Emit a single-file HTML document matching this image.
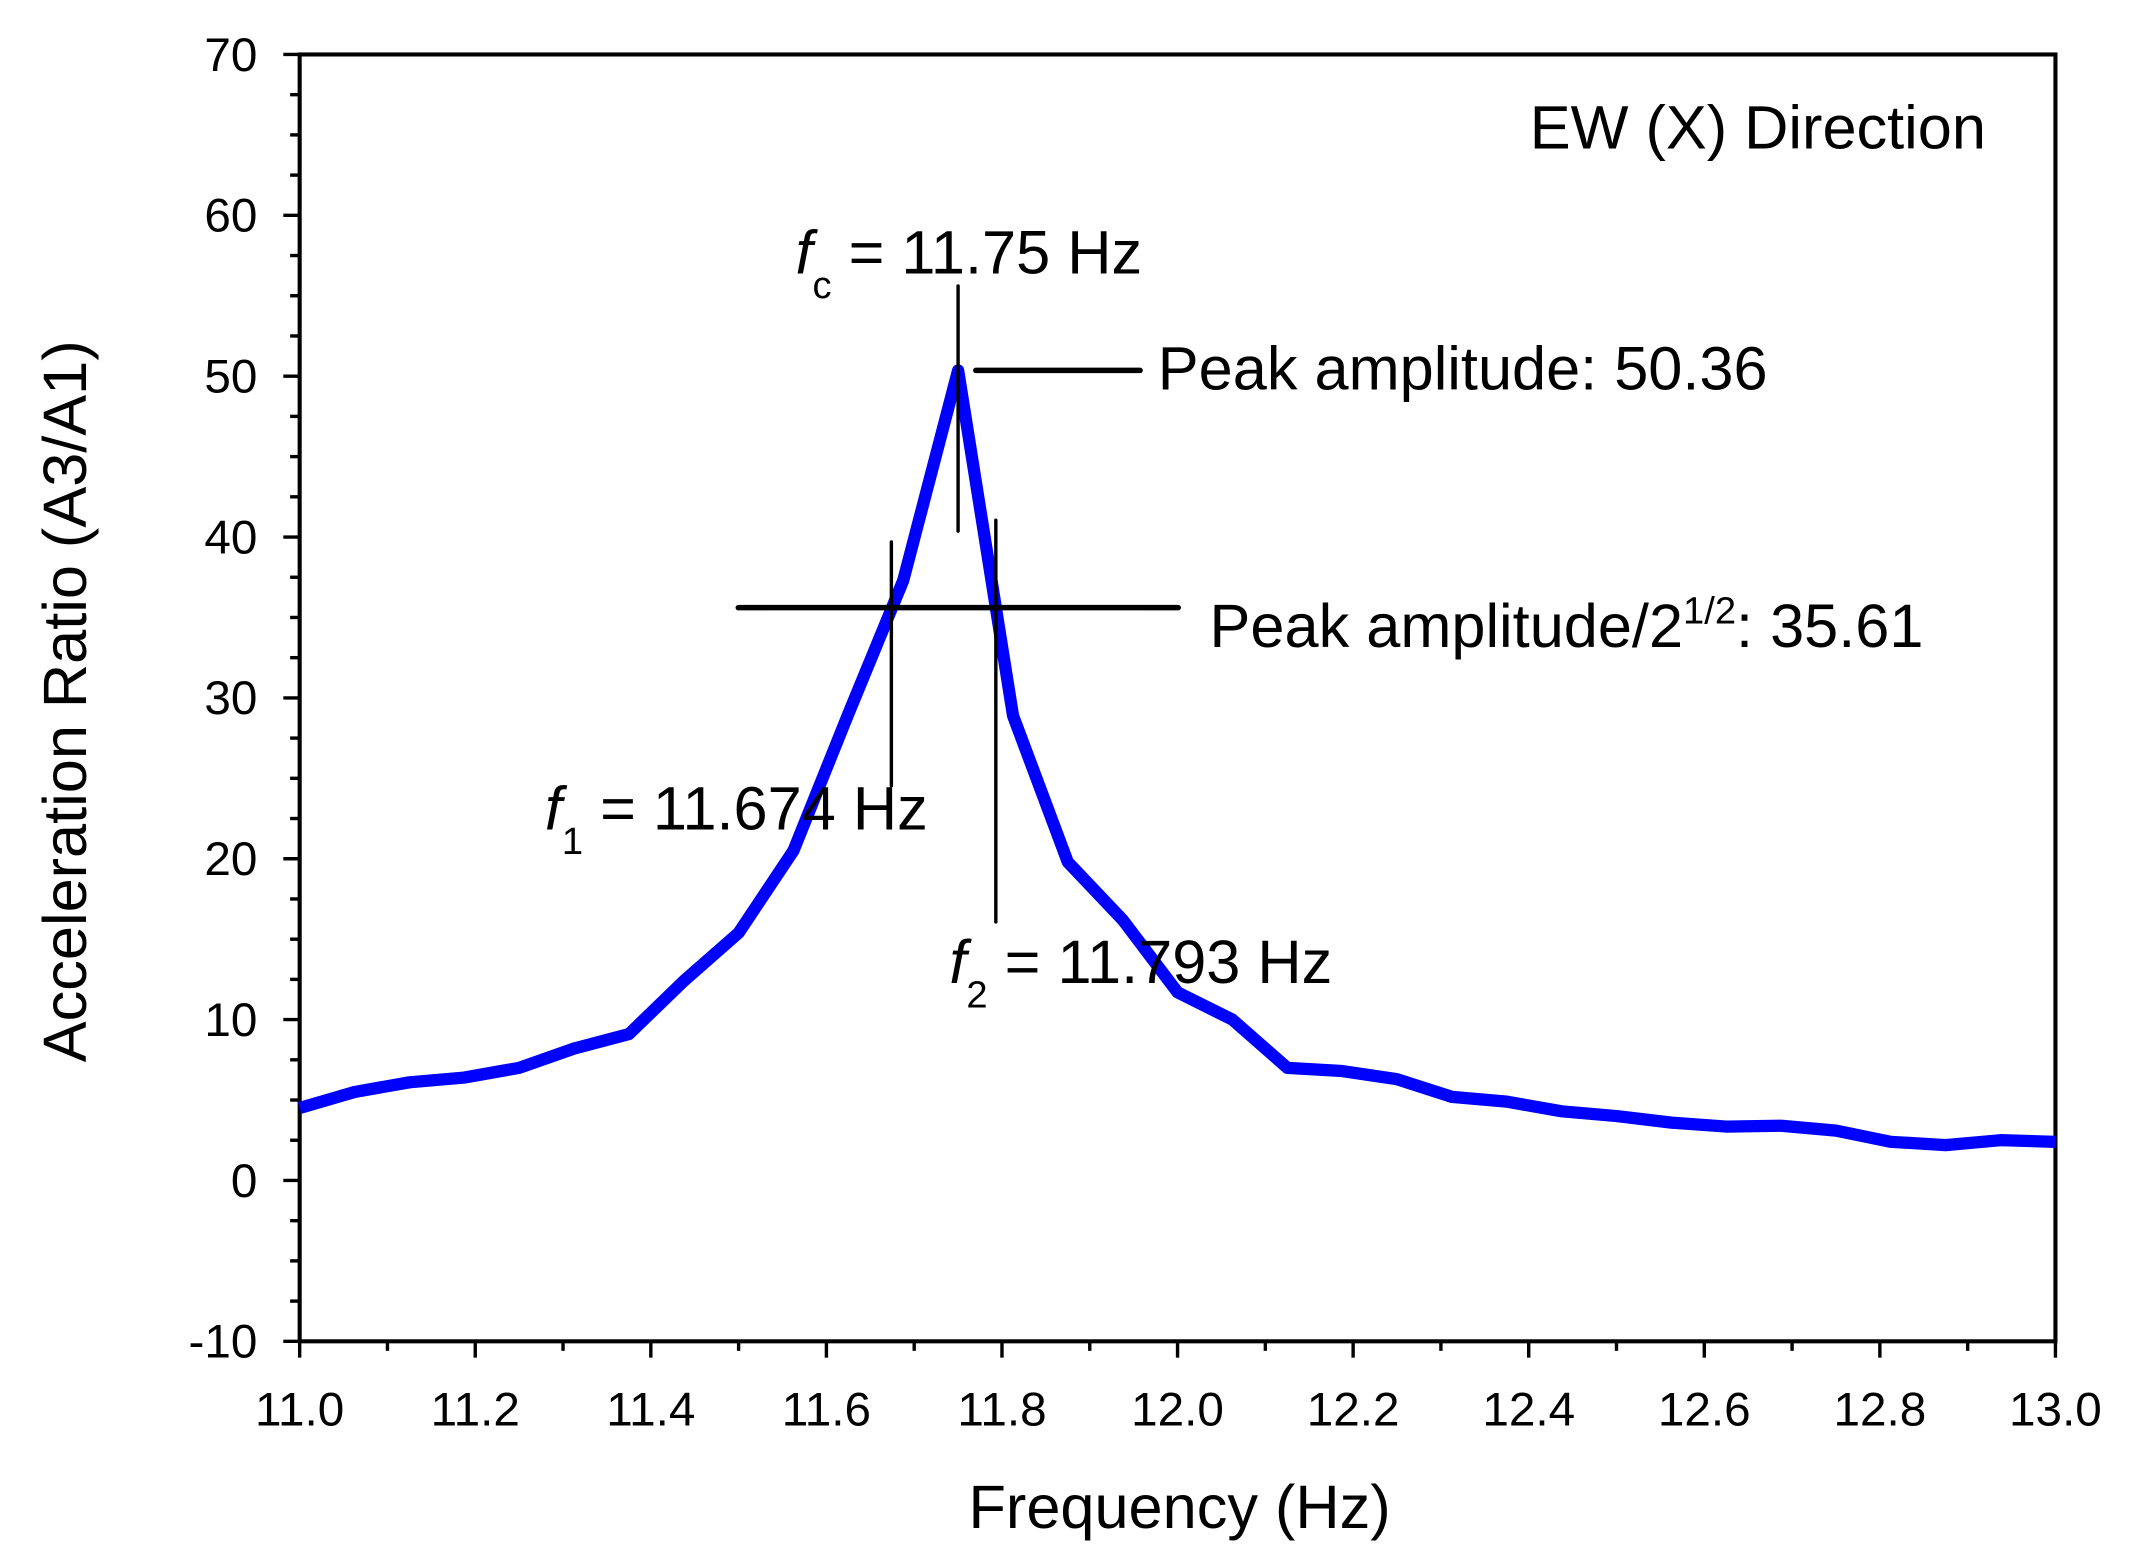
<!DOCTYPE html>
<html><head><meta charset="utf-8"><style>
html,body{margin:0;padding:0;background:#fff;}
svg{display:block;}
text{font-family:"Liberation Sans",Arial,sans-serif;fill:#000;}
</style></head><body>
<svg id="chart" width="2129" height="1566" viewBox="0 0 1563 1150" preserveAspectRatio="none" xmlns="http://www.w3.org/2000/svg">
<g id="axes"></g>
<g id="plot"></g>
<g id="annot"></g>
</svg>
<script>
const freqStart = 11.0;
const freqStep = 0.0625;
const ratioValues = [4.5,5.5,6.1,6.4,7.0,8.2,9.1,12.4,15.4,20.5,29.0,37.3,50.36,28.9,19.8,16.2,11.7,10.0,7.0,6.8,6.3,5.2,4.9,4.3,4.0,3.6,3.35,3.4,3.1,2.4,2.2,2.5,2.4];
const xTicks = ["11.0","11.2","11.4","11.6","11.8","12.0","12.2","12.4","12.6","12.8","13.0"];
const yTicks = ["-10","0","10","20","30","40","50","60","70"];
const fc = 11.75, f1 = 11.674, f2 = 11.793, peak = 50.36, halfPower = 35.61;

const L=220,R=1509,T=40,B=985;
const xs = v => L + (v-11)/(13-11)*(R-L);
const ys = v => B - (v+10)/80*(B-T);
const NS="http://www.w3.org/2000/svg";
function mk(tag, attrs, parent, txt){const e=document.createElementNS(NS,tag);for(const k in attrs)e.setAttribute(k,attrs[k]);if(txt!==undefined)e.textContent=txt;parent.appendChild(e);return e;}
const axes=document.getElementById('axes'), plot=document.getElementById('plot'), ann=document.getElementById('annot');

const frame=mk('rect',{x:L,y:T,width:R-L,height:B-T,fill:'none',stroke:'#000','stroke-width':3},axes);



xTicks.forEach((t)=>{const v=parseFloat(t);const x=xs(v);
 mk('line',{x1:x,y1:B,x2:x,y2:B+12,stroke:'#000','stroke-width':2.5},axes);
 const lb=mk('text',{x:x,y:B+62,'text-anchor':'middle','font-size':35},axes,t);
 
 
});
for(let v=11.1;v<13;v+=0.2){const x=xs(v);mk('line',{x1:x,y1:B,x2:x,y2:B+7,stroke:'#000','stroke-width':2.5},axes);}
yTicks.forEach((t)=>{const v=parseFloat(t);const y=ys(v);
 mk('line',{x1:L-12,y1:y,x2:L,y2:y,stroke:'#000','stroke-width':2.5},axes);
 const lb=mk('text',{x:L-31,y:y+12,'text-anchor':'end','font-size':35},axes,t);
 
 
});
for(let v=-7.5;v<70;v+=2.5){if(Math.abs(v%10)<0.01)continue;const y=ys(v);mk('line',{x1:L-7,y1:y,x2:L,y2:y,stroke:'#000','stroke-width':2.5},axes);}

const xt=mk('text',{x:866,y:1122,'text-anchor':'middle','font-size':45},axes,'Frequency (Hz)');


const yt=mk('text',{x:0,y:0,'text-anchor':'middle','font-size':45,transform:'translate(63,515) rotate(-90)'},axes,'Acceleration Ratio (A3/A1)');



const pts=ratioValues.map((v,i)=>xs(freqStart+i*freqStep).toFixed(1)+','+ys(v).toFixed(1)).join(' ');
const line=mk('polyline',{points:pts,fill:'none',stroke:'#0000ff','stroke-width':9,'stroke-linejoin':'round'},plot);



function aline(x1,y1,x2,y2,w,name){const l=mk('line',{x1,y1,x2,y2,stroke:'#000','stroke-width':w,'stroke-linecap':'round'},ann);
 
 }
aline(xs(fc),210,xs(fc),390,2.5,'fc-marker');
aline(xs(fc)+13,ys(peak),837,ys(peak),4,'peak-marker');
aline(542,ys(halfPower),865,ys(halfPower),4,'half-power-marker');
aline(xs(f1),398,xs(f1),577,2.5,'f1-marker');
aline(xs(f2),382,xs(f2),677,2.5,'f2-marker');

const g=document.createElementNS(NS,'g');ann.appendChild(g);
g.innerHTML=
'<text x="1458" y="109" text-anchor="end" font-size="45">EW (X) Direction</text>'+
'<text x="584" y="201" font-size="45"><tspan font-style="italic">f</tspan><tspan font-size="28" dy="18">c</tspan><tspan dy="-18"> = 11.75 Hz</tspan></text>'+
'<text x="850" y="286" font-size="45">Peak amplitude: 50.36</text>'+
'<text x="888" y="475" font-size="45">Peak amplitude/2<tspan font-size="28" dy="-17">1/2</tspan><tspan dy="17">: 35.61</tspan></text>'+
'<text x="400" y="609" font-size="45"><tspan font-style="italic">f</tspan><tspan font-size="28" dy="18">1</tspan><tspan dy="-18"> = 11.674 Hz</tspan></text>'+
'<text x="697" y="722" font-size="45"><tspan font-style="italic">f</tspan><tspan font-size="28" dy="18">2</tspan><tspan dy="-18"> = 11.793 Hz</tspan></text>';
</script>
</body></html>
